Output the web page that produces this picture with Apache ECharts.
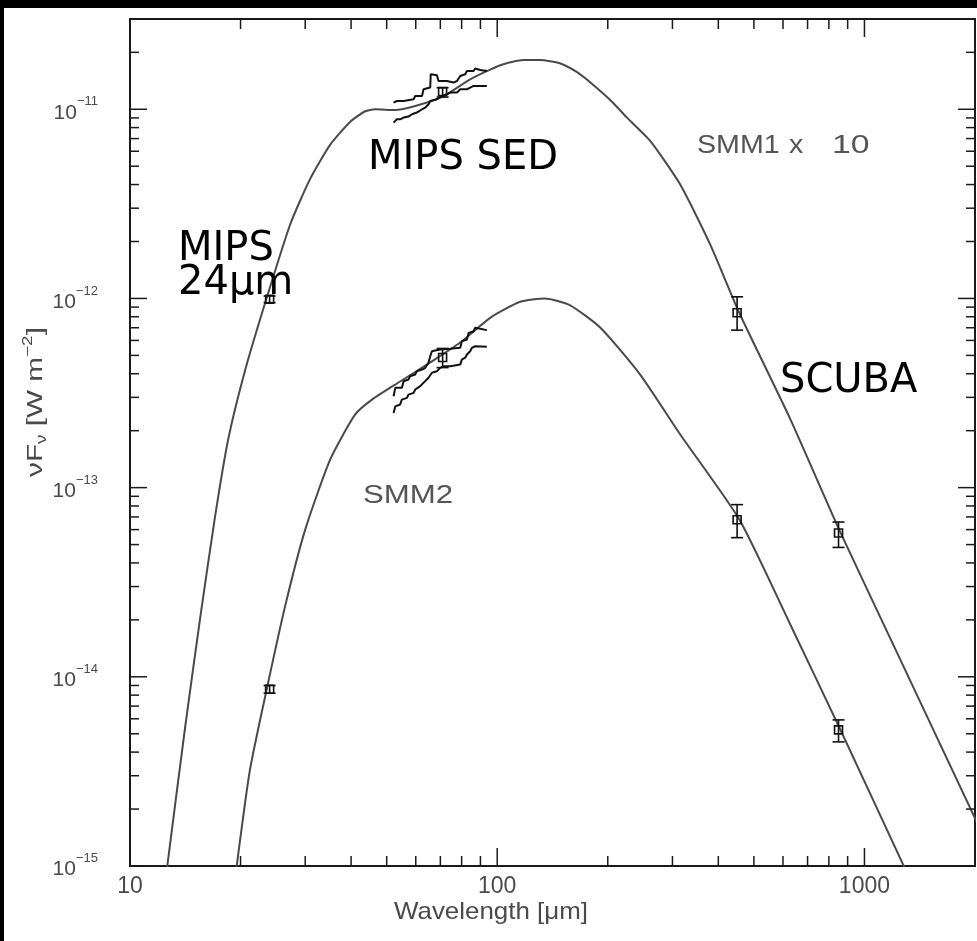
<!DOCTYPE html>
<html>
<head>
<meta charset="utf-8">
<script src="https://cdn.jsdelivr.net/npm/echarts@6/dist/echarts.min.js"></script>
<style>
html, body { margin: 0; padding: 0; background: #000; }
#chart { position: absolute; left: 4px; top: 8px; width: 973px; height: 933px; background: #fff; }
</style>
</head>
<body>
<div id="chart"></div>
<script>
// wavelength [micron], nu F_nu [W m^-2]
const smm1Model = [
  [12.5, 8.5e-16], [14.1, 5.25e-15], [15.5, 2.0e-14], [17.0, 6.8e-14], [18.5, 1.79e-13],
  [20.6, 4.2e-13], [23.5, 9.9e-13], [27.3, 2.46e-12], [30.9, 4.26e-12], [35.1, 6.5e-12],
  [39.8, 8.6e-12], [43.7, 9.76e-12], [46.5, 1.0e-11], [52.7, 9.9e-12], [59.8, 1.04e-11],
  [71.3, 1.17e-11], [84.4, 1.44e-11], [102, 1.71e-11], [118, 1.82e-11], [131, 1.82e-11],
  [148, 1.75e-11], [165, 1.57e-11], [183, 1.34e-11], [205, 1.1e-11], [226, 9.0e-12],
  [261, 6.8e-12], [315, 4.0e-12], [380, 1.93e-12], [456, 8.4e-13], [629, 2.29e-13],
  [860, 5.8e-14], [1253, 1.23e-14], [2070, 1.55e-15]
];
const smm2Model = [
  [19.3, 8.4e-16], [21.2, 3.2e-15], [23.6, 8.7e-15], [26.5, 2.4e-14], [30.0, 6.0e-14],
  [35.1, 1.41e-13], [41.0, 2.43e-13], [45.6, 2.92e-13], [54.4, 3.64e-13], [65.7, 4.59e-13],
  [79.3, 5.85e-13], [95.7, 7.9e-13], [115.5, 9.6e-13], [135, 1.0e-12], [158, 9.2e-13],
  [191, 7.0e-13], [245, 3.96e-13], [315, 1.91e-13], [456, 6.8e-14], [629, 1.88e-14],
  [860, 5.25e-15], [1334, 8.4e-16]
];

// MIPS SED spectra, upper and lower envelopes
const smm1SpecHi = [
  [52.2, 1.085e-11], [53.3, 1.106e-11], [55.6, 1.106e-11], [56.2, 1.13e-11], [59.2, 1.13e-11],
  [59.8, 1.176e-11], [62.4, 1.176e-11], [63.0, 1.276e-11], [65.7, 1.302e-11], [65.9, 1.531e-11],
  [68.5, 1.513e-11], [69.2, 1.411e-11], [72.9, 1.411e-11], [73.7, 1.384e-11], [76.0, 1.384e-11],
  [77.7, 1.411e-11], [79.3, 1.5e-11], [81.8, 1.531e-11], [82.7, 1.594e-11], [86.2, 1.594e-11],
  [87.1, 1.642e-11], [89.9, 1.614e-11], [93.7, 1.594e-11]
];
const smm1SpecLo = [
  [52.2, 8.5e-12], [53.3, 8.85e-12], [54.4, 8.85e-12], [55.6, 9.04e-12], [57.3, 9.15e-12],
  [58.6, 9.41e-12], [60.4, 9.61e-12], [62.4, 1.0e-11], [63.7, 1.021e-11], [65.0, 1.063e-11],
  [65.7, 1.106e-11], [68.5, 1.13e-11], [70.7, 1.176e-11], [72.9, 1.2e-11], [74.5, 1.226e-11],
  [77.7, 1.226e-11], [79.3, 1.276e-11], [82.7, 1.276e-11], [84.4, 1.302e-11], [86.2, 1.328e-11],
  [93.7, 1.328e-11]
];
const smm2SpecHi = [
  [52.2, 3.04e-13], [52.8, 3.37e-13], [55.0, 3.37e-13], [55.6, 3.65e-13], [57.3, 3.73e-13],
  [57.9, 3.88e-13], [59.8, 3.96e-13], [60.4, 4.12e-13], [62.4, 4.21e-13], [63.7, 4.3e-13],
  [65.0, 4.57e-13], [65.7, 4.95e-13], [66.4, 5.26e-13], [69.9, 5.37e-13], [74.5, 5.42e-13],
  [79.3, 5.48e-13], [80.1, 5.94e-13], [82.7, 6.07e-13], [83.6, 6.58e-13], [86.2, 6.71e-13],
  [87.1, 7.0e-13], [93.7, 6.8e-13]
];
const smm2SpecLo = [
  [52.2, 2.48e-13], [52.8, 2.69e-13], [54.4, 2.75e-13], [55.0, 2.92e-13], [56.8, 2.98e-13],
  [57.3, 3.1e-13], [59.2, 3.17e-13], [59.8, 3.3e-13], [61.7, 3.44e-13], [65.0, 3.81e-13],
  [66.4, 4.05e-13], [68.5, 4.12e-13], [69.9, 4.3e-13], [71.4, 4.38e-13], [74.5, 4.38e-13],
  [75.2, 4.47e-13], [79.3, 4.47e-13], [80.1, 4.75e-13], [81.8, 4.86e-13], [82.7, 5.06e-13],
  [84.4, 5.26e-13], [85.3, 5.48e-13], [87.1, 5.59e-13], [93.7, 5.55e-13]
];

// photometry: wavelength, flux, lower, upper
const smm1Phot = [
  [24, 9.9e-13, 9.5e-13, 1.03e-12],
  [71, 1.24e-11, 1.16e-11, 1.3e-11],
  [450, 8.4e-13, 6.8e-13, 1.02e-12],
  [850, 5.76e-14, 4.83e-14, 6.58e-14]
];
const smm2Phot = [
  [24, 8.6e-15, 8.2e-15, 9.0e-15],
  [71, 4.87e-13, 4.31e-13, 5.44e-13],
  [450, 6.77e-14, 5.44e-14, 8.13e-14],
  [850, 5.24e-15, 4.53e-15, 5.92e-15]
];

const X_MIN = 10, X_MAX = 2000;
const Y_MIN = 1e-15, Y_MAX = 3e-11;
const xMajorTicks = [10, 100, 1000];
const xMinorTicks = [20, 30, 40, 50, 60, 70, 80, 90, 200, 300, 400, 500, 600, 700, 800, 900];
const yMajorTicks = [1e-15, 1e-14, 1e-13, 1e-12, 1e-11];
const yMinorTicks = [];
[1e-15, 1e-14, 1e-13, 1e-12, 1e-11].forEach(d => {
  for (let k = 2; k <= 9; k++) if (k * d < Y_MAX) yMinorTicks.push(k * d);
});

const FRAME = '#1a1a1a';
const GREY_TEXT = '#4a4a4a';

function renderXTick(params, api) {
  const cs = params.coordSys;
  const x = api.coord([api.value(0), Y_MIN])[0];
  const len = api.value(2) ? 18 : 10;
  const style = { stroke: FRAME, lineWidth: 1.5 };
  return {
    type: 'group',
    children: [
      { type: 'line', shape: { x1: x, y1: cs.y + cs.height, x2: x, y2: cs.y + cs.height - len }, style },
      { type: 'line', shape: { x1: x, y1: cs.y, x2: x, y2: cs.y + len }, style }
    ]
  };
}

function renderYTick(params, api) {
  const cs = params.coordSys;
  const y = api.coord([X_MIN, api.value(1)])[1];
  const len = api.value(2) ? 17 : 9;
  const style = { stroke: FRAME, lineWidth: 1.5 };
  return {
    type: 'group',
    children: [
      { type: 'line', shape: { x1: cs.x, y1: y, x2: cs.x + len, y2: y }, style },
      { type: 'line', shape: { x1: cs.x + cs.width, y1: y, x2: cs.x + cs.width - len, y2: y }, style }
    ]
  };
}

function renderPhot(params, api) {
  const lam = api.value(0);
  const p = api.coord([lam, api.value(1)]);
  const lo = api.coord([lam, api.value(2)]);
  const hi = api.coord([lam, api.value(3)]);
  const s = 4, c = 6;
  const style = { stroke: '#111', lineWidth: 1.6, fill: 'none' };
  return {
    type: 'group',
    children: [
      { type: 'rect', shape: { x: p[0] - s, y: p[1] - s, width: 2 * s, height: 2 * s }, style },
      { type: 'line', shape: { x1: p[0], y1: hi[1], x2: p[0], y2: lo[1] }, style },
      { type: 'line', shape: { x1: p[0] - c, y1: hi[1], x2: p[0] + c, y2: hi[1] }, style },
      { type: 'line', shape: { x1: p[0] - c, y1: lo[1], x2: p[0] + c, y2: lo[1] }, style }
    ]
  };
}

const isDecade = v => Math.abs(Math.log10(v) - Math.round(Math.log10(v))) < 1e-6;

const chart = echarts.init(document.getElementById('chart'));

const modelLine = { color: '#4a4a4a', width: 2 };
const specLine = { color: '#111', width: 2 };
const idlText = (x, y, text, size, sx) => ({
  type: 'text', x: x, y: y, scaleX: sx, z: 50,
  style: { text: text, font: size + 'px "Liberation Sans"', fill: '#555', verticalAlign: 'middle' }
});

chart.setOption({
  animation: false,
  backgroundColor: '#fff',
  grid: {
    left: 126, right: 2, top: 11, bottom: 75,
    show: true, borderColor: FRAME, borderWidth: 2, backgroundColor: '#fff'
  },
  xAxis: {
    type: 'log', logBase: 10, min: X_MIN, max: X_MAX,
    axisLine: { show: false }, axisTick: { show: false }, splitLine: { show: false },
    axisLabel: {
      margin: 9, color: GREY_TEXT, fontFamily: 'Liberation Sans', fontSize: 23,
      showMaxLabel: false,
      formatter: v => isDecade(v) ? String(Math.round(v)) : ''
    }
  },
  yAxis: {
    type: 'log', logBase: 10, min: Y_MIN, max: Y_MAX,
    axisLine: { show: false }, axisTick: { show: false }, splitLine: { show: false },
    axisLabel: {
      margin: 32, color: GREY_TEXT, showMaxLabel: false,
      formatter: v => {
        if (!isDecade(v)) return '';
        return '{n|10}{s|\u2212' + (-Math.round(Math.log10(v))) + '}';
      },
      rich: {
        n: { fontFamily: 'Liberation Sans', fontSize: 21, color: GREY_TEXT, lineHeight: 28, verticalAlign: 'bottom' },
        s: { fontFamily: 'Liberation Sans', fontSize: 13, color: GREY_TEXT, lineHeight: 28, verticalAlign: 'top' }
      }
    }
  },
  series: [
    { type: 'line', data: smm1Model, showSymbol: false, smooth: 0.2, lineStyle: modelLine, z: 3 },
    { type: 'line', data: smm2Model, showSymbol: false, smooth: 0.2, lineStyle: modelLine, z: 3 },
    { type: 'line', data: smm1SpecHi, showSymbol: false, lineStyle: specLine, z: 4 },
    { type: 'line', data: smm1SpecLo, showSymbol: false, lineStyle: specLine, z: 4 },
    { type: 'line', data: smm2SpecHi, showSymbol: false, lineStyle: specLine, z: 4 },
    { type: 'line', data: smm2SpecLo, showSymbol: false, lineStyle: specLine, z: 4 },
    { type: 'custom', data: smm1Phot, renderItem: renderPhot, encode: { x: 0, y: 1 }, z: 5 },
    { type: 'custom', data: smm2Phot, renderItem: renderPhot, encode: { x: 0, y: 1 }, z: 5 },
    {
      type: 'custom', silent: true, clip: false, renderItem: renderXTick, encode: { x: 0, y: 1 }, z: 6,
      data: xMajorTicks.map(v => [v, Y_MIN, 1]).concat(xMinorTicks.map(v => [v, Y_MIN, 0]))
    },
    {
      type: 'custom', silent: true, clip: false, renderItem: renderYTick, encode: { x: 0, y: 1 }, z: 6,
      data: yMajorTicks.map(v => [X_MIN, v, 1]).concat(yMinorTicks.map(v => [X_MIN, v, 0]))
    }
  ],
  graphic: [
    { type: 'text', left: 364, top: 131, z: 50, style: { text: 'MIPS SED', font: '40px "DejaVu Sans"', fill: '#000' } },
    { type: 'text', left: 174, top: 222, z: 50, style: { text: 'MIPS', font: '40px "DejaVu Sans"', fill: '#000' } },
    { type: 'text', left: 174, top: 256, z: 50, style: { text: '24\u03bcm', font: '40px "DejaVu Sans"', fill: '#000' } },
    { type: 'text', left: 776, top: 354, z: 50, style: { text: 'SCUBA', font: '40px "DejaVu Sans"', fill: '#000' } },
    idlText(693, 138, 'SMM1', 26, 1.1),
    idlText(785, 138, 'x', 26, 1.1),
    idlText(828, 138, '10', 26, 1.3),
    idlText(359, 488, 'SMM2', 26, 1.2),
    {
      type: 'text', x: 487, y: 904, scaleX: 1.08, z: 50,
      style: { text: 'Wavelength [\u03bcm]', font: '24px "Liberation Sans"', fill: GREY_TEXT, align: 'center', verticalAlign: 'middle' }
    },
    {
      type: 'text', x: 32, y: 394, rotation: Math.PI / 2, scaleX: 1.35, z: 50,
      style: {
        text: '{n|\u03bdF}{b|\u03bd}{n| [W m}{t|\u22122}{n|]}',
        align: 'center', verticalAlign: 'middle',
        rich: {
          n: { fontFamily: 'Liberation Sans', fontSize: 22, fill: GREY_TEXT, lineHeight: 30, verticalAlign: 'middle' },
          b: { fontFamily: 'Liberation Sans', fontSize: 14, fill: GREY_TEXT, lineHeight: 30, verticalAlign: 'bottom', padding: [0, 0, 2, 0] },
          t: { fontFamily: 'Liberation Sans', fontSize: 14, fill: GREY_TEXT, lineHeight: 30, verticalAlign: 'top' }
        }
      }
    }
  ]
});
</script>
</body>
</html>
